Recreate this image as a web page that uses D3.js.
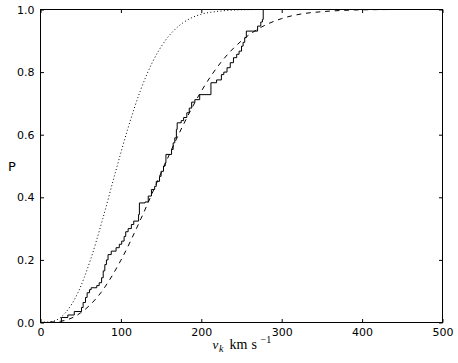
<!DOCTYPE html>
<html>
<head>
<meta charset="utf-8">
<script src="https://cdn.jsdelivr.net/npm/d3@7"></script>
<style>
  html, body { margin: 0; padding: 0; background: #fff; }
  svg { display: block; }
</style>
</head>
<body>
<svg id="chart" width="458" height="363"></svg>
<script>
// ---- data ----
const xTicks = [0, 100, 200, 300, 400, 500];
const yTicks = [0.0, 0.2, 0.4, 0.6, 0.8, 1.0];

// empirical cumulative distribution (solid steps): speed at each jump, level after the jump
const stepV = [0, 26, 34, 42, 51, 53, 56, 58, 61, 63, 70, 73, 76, 78, 80, 82, 84, 88, 94, 98,
  101, 104, 106, 109, 113, 116, 122, 123, 130, 134, 138, 142, 144, 148, 150, 153, 155, 156,
  163, 165, 167, 169, 170, 175, 178, 182, 185, 188, 192, 198, 212, 219, 225, 228, 232, 236,
  240, 244, 247, 250, 252, 254, 256, 270, 274, 276, 277, 500];
const stepP = [0, 0.016, 0.024, 0.035, 0.048, 0.064, 0.080, 0.095, 0.105, 0.111, 0.118, 0.127,
  0.143, 0.165, 0.185, 0.200, 0.217, 0.228, 0.239, 0.250, 0.260, 0.275, 0.290, 0.300, 0.313,
  0.324, 0.345, 0.382, 0.385, 0.404, 0.425, 0.435, 0.451, 0.467, 0.483, 0.500, 0.510, 0.537,
  0.553, 0.574, 0.590, 0.617, 0.638, 0.645, 0.655, 0.670, 0.685, 0.704, 0.712, 0.728, 0.766,
  0.775, 0.792, 0.800, 0.814, 0.830, 0.846, 0.857, 0.867, 0.883, 0.895, 0.910, 0.931, 0.947,
  0.960, 0.968, 1.0, 1.0];

// dashed curve
const dashV = [0, 25, 50, 75, 100, 125, 150, 175, 200, 225, 250, 275, 300, 325, 350, 375, 400, 450, 500];
const dashP = [0, 0.004, 0.031, 0.095, 0.199, 0.332, 0.478, 0.618, 0.739, 0.833, 0.900, 0.944,
  0.971, 0.986, 0.993, 0.997, 0.999, 1.0, 1.0];

// dotted curve
const dotV = [0, 15.5, 31, 46.5, 62, 77.5, 93, 108.5, 124, 139.5, 155, 170.5, 186, 201.5, 217,
  232.5, 248, 279, 310, 400, 500];
const dotP = [0, 0.004, 0.031, 0.095, 0.199, 0.332, 0.478, 0.618, 0.739, 0.833, 0.900, 0.944,
  0.971, 0.986, 0.993, 0.997, 0.999, 1.0, 1.0, 1.0, 1.0];

// ---- drawing ----
const svg = d3.select("#chart");
const L = 40.5, R = 442.5, T = 9.5, B = 322.5;
const x = d3.scaleLinear().domain([0, 500]).range([L, R]);
const y = d3.scaleLinear().domain([0, 1]).range([B, T]);

svg.append("defs").append("clipPath").attr("id", "plotclip")
  .append("rect").attr("x", L).attr("y", T).attr("width", R - L).attr("height", B - T);

const g = svg.append("g").attr("clip-path", "url(#plotclip)");

const stepLine = d3.line().x(d => x(d[0])).y(d => y(d[1])).curve(d3.curveStepAfter);
const smooth = d3.line().x(d => x(d[0])).y(d => y(d[1])).curve(d3.curveMonotoneX);

g.append("path")
  .datum(dotV.map((v, i) => [v, dotP[i]]))
  .attr("d", smooth)
  .attr("fill", "none").attr("stroke", "#000").attr("stroke-width", 1)
  .attr("stroke-dasharray", "1,2.4");

g.append("path")
  .datum(dashV.map((v, i) => [v, dashP[i]]))
  .attr("d", smooth)
  .attr("fill", "none").attr("stroke", "#000").attr("stroke-width", 1)
  .attr("stroke-dasharray", "4.8,4.8");

g.append("path")
  .datum(stepV.map((v, i) => [v, stepP[i]]))
  .attr("d", stepLine)
  .attr("fill", "none").attr("stroke", "#000").attr("stroke-width", 1);

// axes (ticks inside, on all four sides)
const fontFam = "'DejaVu Sans', sans-serif";
const tickLen = 3.5;

const xb = svg.append("g").attr("transform", `translate(0,${B})`)
  .call(d3.axisBottom(x).tickValues(xTicks).tickSizeInner(-tickLen).tickSizeOuter(0).tickPadding(6).tickFormat(d3.format("d")));
const xt = svg.append("g").attr("transform", `translate(0,${T})`)
  .call(d3.axisTop(x).tickValues(xTicks).tickSizeInner(-tickLen).tickSizeOuter(0).tickFormat(""));
const yl = svg.append("g").attr("transform", `translate(${L},0)`)
  .call(d3.axisLeft(y).tickValues(yTicks).tickSizeInner(-tickLen).tickSizeOuter(0).tickPadding(6).tickFormat(d3.format(".1f")));
const yr = svg.append("g").attr("transform", `translate(${R},0)`)
  .call(d3.axisRight(y).tickValues(yTicks).tickSizeInner(-tickLen).tickSizeOuter(0).tickFormat(""));

[xb, xt, yl, yr].forEach(a => {
  a.select(".domain").remove();
  a.selectAll("line").attr("stroke", "#000").attr("stroke-width", 1);
  a.selectAll("text").attr("font-family", fontFam).attr("font-size", "11px").attr("fill", "#000");
});

svg.append("rect").attr("x", L).attr("y", T).attr("width", R - L).attr("height", B - T)
  .attr("fill", "none").attr("stroke", "#000").attr("stroke-width", 1);

// x label: v_k km s^-1
const serif = "'Liberation Serif', 'DejaVu Serif', serif";
svg.append("text").attr("x", 212.5).attr("y", 348.5)
  .attr("font-family", serif).attr("font-size", "13px").attr("font-style", "italic").attr("fill", "#000").text("v");
svg.append("text").attr("x", 219).attr("y", 351.5)
  .attr("font-family", serif).attr("font-size", "10px").attr("font-style", "italic").attr("fill", "#000").text("k");
const xl = svg.append("text").attr("x", 229.5).attr("y", 348.5)
  .attr("font-family", serif).attr("font-size", "14px").attr("fill", "#000");
xl.append("tspan").text("km");
xl.append("tspan").attr("dx", 4).text("s");
svg.append("text").attr("x", 260.5).attr("y", 343)
  .attr("font-family", serif).attr("font-size", "10px").attr("fill", "#000").text("\u22121");

// y label
svg.append("text").attr("x", 12).attr("y", 171)
  .attr("text-anchor", "middle")
  .attr("font-family", fontFam).attr("font-size", "13px").attr("fill", "#000").text("P");
</script>
</body>
</html>
